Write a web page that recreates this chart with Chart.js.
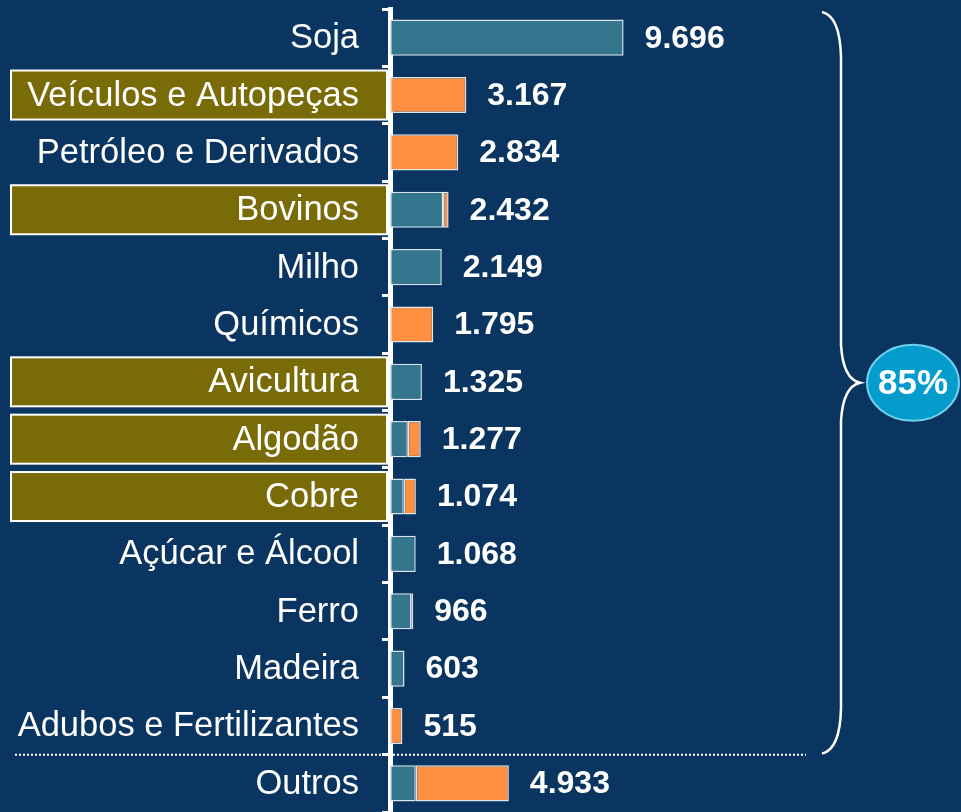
<!DOCTYPE html>
<html>
<head>
<meta charset="utf-8">
<script src="https://cdn.jsdelivr.net/npm/chart.js@4"></script>
<style>
  html, body { margin: 0; padding: 0; background: #0A3560; }
  #wrap { width: 961px; height: 812px; position: relative; }
</style>
</head>
<body>
<div id="wrap"><canvas id="chart"></canvas></div>
<script>
const categories = [
  'Soja', 'Veículos e Autopeças', 'Petróleo e Derivados', 'Bovinos', 'Milho',
  'Químicos', 'Avicultura', 'Algodão', 'Cobre', 'Açúcar e Álcool', 'Ferro',
  'Madeira', 'Adubos e Fertilizantes', 'Outros'
];
// teal part and orange part of each bar
const tealValues   = [9696, 0, 0, 2200, 2149, 0, 1325, 740, 570, 1068, 880, 603, 0, 1070];
const orangeValues = [0, 3167, 2834, 232, 0, 1795, 0, 537, 504, 0, 86, 0, 515, 3863];
const totalLabels  = ['9.696', '3.167', '2.834', '2.432', '2.149', '1.795', '1.325',
                      '1.277', '1.074', '1.068', '966', '603', '515', '4.933'];
const highlighted  = ['Veículos e Autopeças', 'Bovinos', 'Avicultura', 'Algodão', 'Cobre'];
const shareLabel = '85%';

const BG = '#0A3560';
const FONT = '"Liberation Sans", Arial, sans-serif';

const decorPlugin = {
  id: 'decor',
  beforeDraw(chart) {
    const { ctx } = chart;
    const y = chart.scales.y;
    ctx.save();
    ctx.fillStyle = BG;
    ctx.fillRect(0, 0, chart.width, chart.height);
    // olive boxes behind highlighted labels, then the category labels
    ctx.font = '34.5px ' + FONT;
    ctx.textAlign = 'right';
    ctx.textBaseline = 'middle';
    categories.forEach((c, i) => {
      const cy = y.getPixelForValue(i);
      if (highlighted.includes(c)) {
        ctx.fillStyle = '#796B08';
        ctx.fillRect(11, cy - 24.5, 376, 49);
        ctx.strokeStyle = '#ffffff';
        ctx.lineWidth = 2;
        ctx.strokeRect(11, cy - 24.5, 376, 49);
      }
      ctx.fillStyle = '#ffffff';
      ctx.fillText(c, 359, cy + 1);
    });
    ctx.restore();
  },
  afterDraw(chart) {
    const { ctx } = chart;
    const y = chart.scales.y;
    const x = chart.scales.x;
    const step = y.getPixelForValue(1) - y.getPixelForValue(0);
    ctx.save();
    // value labels
    ctx.font = 'bold 32px ' + FONT;
    ctx.fillStyle = '#ffffff';
    ctx.textAlign = 'left';
    ctx.textBaseline = 'middle';
    categories.forEach((c, i) => {
      const end = x.getPixelForValue(tealValues[i] + orangeValues[i]);
      ctx.fillText(totalLabels[i], end + 21, y.getPixelForValue(i) + 1);
    });
    // dotted separator before "Outros"
    const sepY = y.getPixelForValue(categories.length - 1) - step / 2;
    ctx.strokeStyle = '#ffffff';
    ctx.lineWidth = 2;
    ctx.setLineDash([2, 2]);
    ctx.beginPath();
    ctx.moveTo(15, sepY);
    ctx.lineTo(382, sepY);
    ctx.moveTo(393, sepY);
    ctx.lineTo(806, sepY);
    ctx.stroke();
    ctx.setLineDash([]);
    // brace
    const top = y.getPixelForValue(0) - step / 2 + 3;
    const bot = sepY - 1;
    const mid = (top + bot) / 2;
    ctx.lineWidth = 2.5;
    ctx.beginPath();
    ctx.moveTo(822, top);
    ctx.quadraticCurveTo(840, top + 4, 841, top + 45);
    ctx.lineTo(841, mid - 38);
    ctx.quadraticCurveTo(843, mid - 4, 860, mid);
    ctx.quadraticCurveTo(843, mid + 4, 841, mid + 38);
    ctx.lineTo(841, bot - 45);
    ctx.quadraticCurveTo(840, bot - 4, 822, bot);
    ctx.stroke();
    // share ellipse
    ctx.beginPath();
    ctx.ellipse(913, mid, 46, 38, 0, 0, Math.PI * 2);
    ctx.fillStyle = '#049BCD';
    ctx.fill();
    ctx.strokeStyle = '#6FD0EE';
    ctx.lineWidth = 2;
    ctx.stroke();
    ctx.fillStyle = '#ffffff';
    ctx.textAlign = 'center';
    ctx.font = 'bold 35px ' + FONT;
    ctx.fillText(shareLabel, 913, mid + 2);
    ctx.restore();
  }
};

new Chart(document.getElementById('chart'), {
  type: 'bar',
  data: {
    labels: categories,
    datasets: [
      {
        data: tealValues,
        backgroundColor: '#33768E',
        borderColor: '#DCE5EB',
        borderWidth: 1.5,
        borderSkipped: false,
        categoryPercentage: 1,
        barPercentage: 0.63,
      },
      {
        data: orangeValues,
        backgroundColor: '#FF8F40',
        borderColor: '#DCE5EB',
        borderWidth: 1.5,
        borderSkipped: false,
        categoryPercentage: 1,
        barPercentage: 0.63,
      },
    ],
  },
  options: {
    indexAxis: 'y',
    responsive: true,
    maintainAspectRatio: false,
    animation: false,
    layout: { padding: { top: 9, bottom: 0, left: 0, right: 0 } },
    plugins: { legend: { display: false }, tooltip: { enabled: false } },
    scales: {
      x: {
        stacked: true,
        display: false,
        min: 0,
        max: 23700,
      },
      y: {
        stacked: true,
        z: 1,
        afterFit: (scale) => { scale.width = 390; },
        border: { color: '#ffffff', width: 5 },
        grid: {
          drawOnChartArea: false,
          tickLength: 8,
          tickWidth: 3,
          tickColor: '#ffffff',
        },
        ticks: { display: false },
      },
    },
  },
  plugins: [decorPlugin],
});
</script>
</body>
</html>
